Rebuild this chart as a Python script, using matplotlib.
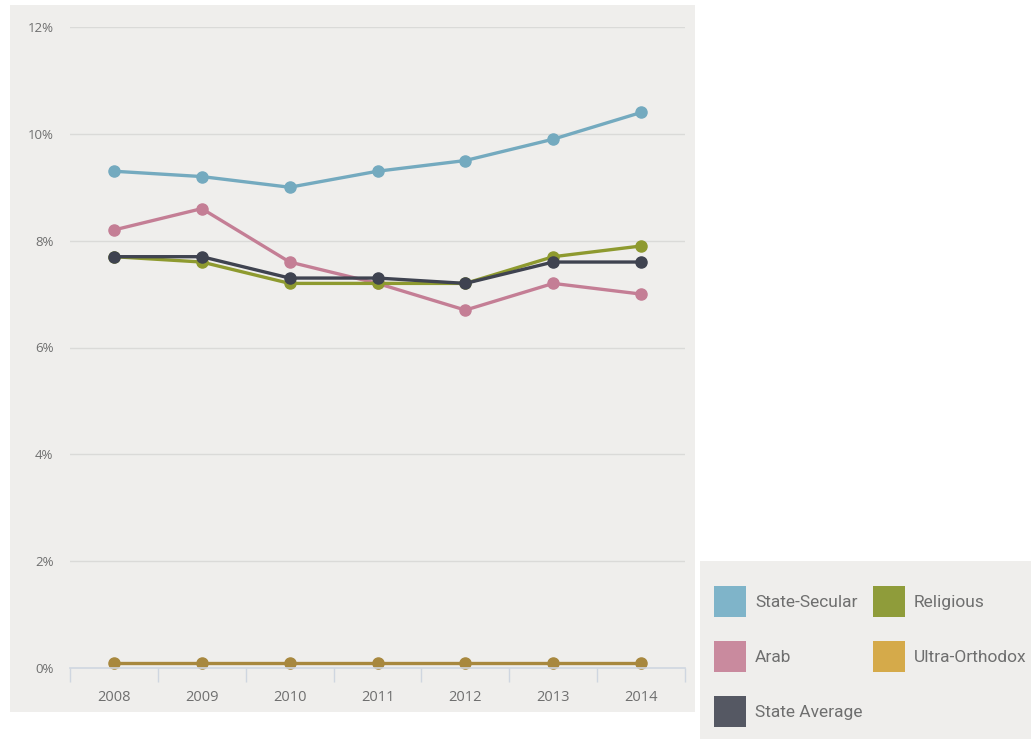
import matplotlib.pyplot as plt
from matplotlib.patches import Rectangle, Patch
from matplotlib.ticker import FixedLocator

years = ["2008", "2009", "2010", "2011", "2012", "2013", "2014"]
state_secular = [9.3, 9.2, 9.0, 9.3, 9.5, 9.9, 10.4]
arab = [8.2, 8.6, 7.6, 7.2, 6.7, 7.2, 7.0]
religious = [7.7, 7.6, 7.2, 7.2, 7.2, 7.7, 7.9]
ultra_orthodox = [0.1, 0.1, 0.1, 0.1, 0.1, 0.1, 0.1]
state_average = [7.7, 7.7, 7.3, 7.3, 7.2, 7.6, 7.6]
y_ticks = [0, 2, 4, 6, 8, 10, 12]

series = [
    ("State-Secular", state_secular, "#74aabf", "#7fb4c9"),
    ("Arab", arab, "#c47e95", "#c98a9e"),
    ("Religious", religious, "#8e9a2f", "#8f9c3a"),
    ("Ultra-Orthodox", ultra_orthodox, "#a8883e", "#d5aa4a"),
    ("State Average", state_average, "#3f4350", "#555863"),
]

plt.rcParams["font.family"] = ["Open Sans", "DejaVu Sans"]

fig = plt.figure(figsize=(10.31, 7.39), dpi=100)
fig.patch.set_facecolor("white")

# paper-coloured panels behind the chart and the legend
fig.patches.append(Rectangle((10/1031, 1 - 712/739), 685/1031, 707/739,
                             transform=fig.transFigure, facecolor="#efeeec",
                             edgecolor="none", zorder=-5))
fig.patches.append(Rectangle((700/1031, 0), 331/1031, 178/739,
                             transform=fig.transFigure, facecolor="#efeeec",
                             edgecolor="none", zorder=-5))

ax = fig.add_axes([70/1031, 1 - 668/739, 615/1031, 641/739])
ax.set_facecolor("none")

x = list(range(len(years)))
for name, vals, lc, _ in series:
    ax.plot(x, vals, color=lc, lw=2.4, marker="o", ms=8, label=name,
            clip_on=False)

ax.set_xlim(-0.5, len(years) - 0.5)
ax.set_ylim(0, 12)
ax.set_yticks(y_ticks)
ax.set_yticklabels([f"{t}%" for t in y_ticks])
ax.set_xticks(x)
ax.set_xticklabels(years)
ax.xaxis.set_minor_locator(FixedLocator([i - 0.5 for i in range(len(years) + 1)]))

for t in y_ticks[1:]:
    ax.axhline(t, color="#dadad8", lw=1, zorder=0)

for s in ["top", "right", "left"]:
    ax.spines[s].set_visible(False)
ax.spines["bottom"].set_color("#cfd6e0")
ax.spines["bottom"].set_linewidth(1.2)

ax.tick_params(axis="y", length=0, pad=12, labelsize=9.5, labelcolor="#6f6f6f")
ax.tick_params(axis="x", which="major", length=0, pad=16, labelsize=10.5,
               labelcolor="#6f6f6f")
ax.tick_params(axis="x", which="minor", length=10, color="#cfd6e0", width=1)

handles = [Patch(facecolor=fc, edgecolor="none", label=name)
           for name, _, _, fc in series]
order = [0, 1, 4, 2, 3]
leg = fig.legend([handles[i] for i in order], [series[i][0] for i in order],
                 ncol=2, loc="lower left", bbox_to_anchor=(702/1031, 0.0),
                 borderaxespad=0.3, frameon=False,
                 prop={"family": ["Roboto", "DejaVu Sans"], "size": 12.5},
                 handlelength=1.85, handleheight=2.4, handletextpad=0.5,
                 columnspacing=0.6, labelspacing=1.35, labelcolor="#6f6f6f")

fig.savefig("out.png", dpi=100)
